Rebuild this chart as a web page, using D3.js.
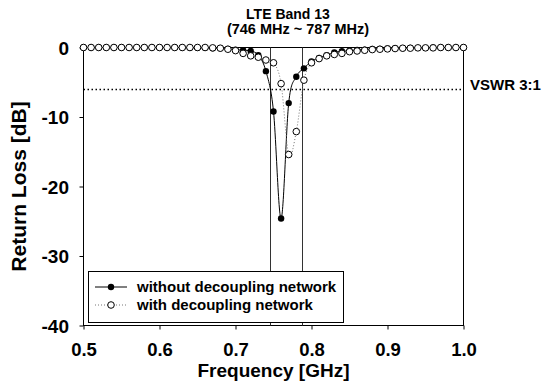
<!DOCTYPE html>
<html>
<head>
<meta charset="utf-8">
<script src="https://cdn.jsdelivr.net/npm/d3@7"></script>
<style>
  html, body { margin: 0; padding: 0; background: #fff; }
  svg { display: block; font-family: "Liberation Sans", Arial, sans-serif; font-weight: bold; }
</style>
</head>
<body>
<svg id="chart" width="554" height="387"></svg>
<script>
// Frequency sweep points (GHz)
const freq = [
  0.50, 0.51, 0.52, 0.53, 0.54, 0.55, 0.56, 0.57, 0.58, 0.59,
  0.60, 0.61, 0.62, 0.63, 0.64, 0.65, 0.66, 0.67, 0.68, 0.69,
  0.70, 0.71, 0.72, 0.73, 0.74, 0.75, 0.76, 0.77, 0.78, 0.79,
  0.80, 0.81, 0.82, 0.83, 0.84, 0.85, 0.86, 0.87, 0.88, 0.89,
  0.90, 0.91, 0.92, 0.93, 0.94, 0.95, 0.96, 0.97, 0.98, 0.99, 1.00
];
// Return loss (dB) without the decoupling network
const withoutNet = [
  0, 0, 0, 0, 0, 0, 0, 0, 0, 0,
  0, 0, 0, 0, -0.05, -0.05, -0.05, -0.1, -0.1, -0.2,
  -0.3, -0.4, -0.5, -1.1, -3.4, -9.2, -24.6, -8.0, -4.2, -3.0,
  -2.0, -1.5, -1.1, -0.7, -0.55, -0.45, -0.35, -0.3, -0.2, -0.2,
  -0.15, -0.1, -0.1, -0.05, -0.05, -0.05, 0, 0, 0, 0, 0
];
// Return loss (dB) with the decoupling network
const withNet = [
  0, 0, 0, 0, 0, 0, 0, 0, 0, 0,
  0, 0, 0, 0, 0, 0, 0, -0.05, -0.1, -0.25,
  -0.45, -0.85, -1.2, -1.4, -1.8, -2.2, -5.2, -15.4, -12.1, -4.7,
  -2.2, -1.6, -1.2, -1.0, -0.85, -0.6, -0.5, -0.4, -0.3, -0.25,
  -0.2, -0.15, -0.1, -0.1, -0.05, -0.05, -0.05, 0, 0, 0, 0
];
const xTicks = [0.5, 0.6, 0.7, 0.8, 0.9, 1.0];
const yTicks = [0, -10, -20, -30, -40];
const bandEdges = [0.746, 0.787];   // LTE Band 13 limits (GHz)
const vswrLevel = -6;               // VSWR 3:1 return-loss level (dB)
const seriesNames = ["without decoupling network", "with decoupling network"];

const svg = d3.select("#chart");
const x = d3.scaleLinear().domain([0.5, 1.0]).range([83.5, 463.5]);
const y = d3.scaleLinear().domain([-40, 0]).range([325.5, 47.5]);

// Plot frame
svg.append("rect")
  .attr("x", x(0.5)).attr("y", y(0))
  .attr("width", x(1.0) - x(0.5)).attr("height", y(-40) - y(0))
  .attr("fill", "none").attr("stroke", "#000").attr("stroke-width", 1);

// Band edges
svg.selectAll("line.band").data(bandEdges).join("line")
  .attr("class", "band")
  .attr("x1", d => Math.round(x(d)) + 0.5).attr("x2", d => Math.round(x(d)) + 0.5)
  .attr("y1", y(0)).attr("y2", y(-40))
  .attr("stroke", "#333").attr("stroke-width", 1);

// VSWR 3:1 reference
svg.append("line")
  .attr("x1", x(0.5)).attr("x2", x(1.0))
  .attr("y1", Math.round(y(vswrLevel)) + 0.5).attr("y2", Math.round(y(vswrLevel)) + 0.5)
  .attr("stroke", "#000").attr("stroke-width", 1.5)
  .attr("stroke-dasharray", "1.5,2.5");
svg.append("text")
  .attr("x", 470).attr("y", y(vswrLevel) + 1)
  .attr("font-size", 15).text("VSWR 3:1");

// Axes
const xAxis = svg.append("g")
  .attr("transform", `translate(0,${y(-40)})`)
  .call(d3.axisBottom(x).tickValues(xTicks).tickFormat(d3.format(".1f")).tickSizeOuter(0).tickSize(4));
xAxis.select(".domain").remove();
xAxis.selectAll("text").attr("y", 0).attr("dy", 30).attr("font-size", 18.5)
  .attr("font-family", null).attr("fill", "#000");

const yAxis = svg.append("g")
  .attr("transform", `translate(${x(0.5)},0)`)
  .call(d3.axisLeft(y).tickValues(yTicks).tickFormat(d => String(d)).tickSizeOuter(0).tickSize(4));
yAxis.select(".domain").remove();
yAxis.selectAll("text").attr("x", -14.5).attr("dy", "0.36em").attr("font-size", 19)
  .attr("font-family", null).attr("fill", "#000");
svg.selectAll(".tick line").attr("stroke", "#000");

// Series
const ptsWithout = freq.map((f, i) => [f, withoutNet[i]]);
const ptsWith = freq.map((f, i) => [f, withNet[i]]);
const line = d3.line().x(d => x(d[0])).y(d => y(d[1])).curve(d3.curveCardinal.tension(0));

svg.append("path").datum(ptsWithout)
  .attr("d", line).attr("fill", "none").attr("stroke", "#000").attr("stroke-width", 1);
svg.append("path").datum(ptsWith)
  .attr("d", line).attr("fill", "none").attr("stroke", "#777").attr("stroke-width", 1)
  .attr("stroke-dasharray", "1,2");

svg.append("g").selectAll("circle").data(ptsWithout).join("circle")
  .attr("cx", d => x(d[0])).attr("cy", d => y(d[1])).attr("r", 3.2)
  .attr("fill", "#000");
svg.append("g").selectAll("circle").data(ptsWith).join("circle")
  .attr("cx", d => x(d[0])).attr("cy", d => y(d[1])).attr("r", 3.3)
  .attr("fill", "#fff").attr("stroke", "#000").attr("stroke-width", 1);

// Legend
const lg = svg.append("g");
lg.append("rect").attr("x", 88.5).attr("y", 271.5).attr("width", 255).attr("height", 51)
  .attr("fill", "#fff").attr("stroke", "#000").attr("stroke-width", 1);
const rows = [287, 305];
lg.append("line").attr("x1", 95).attr("x2", 127).attr("y1", rows[0]).attr("y2", rows[0])
  .attr("stroke", "#000").attr("stroke-width", 1);
lg.append("circle").attr("cx", 111).attr("cy", rows[0]).attr("r", 3.2).attr("fill", "#000");
lg.append("line").attr("x1", 95).attr("x2", 127).attr("y1", rows[1]).attr("y2", rows[1])
  .attr("stroke", "#777").attr("stroke-width", 1).attr("stroke-dasharray", "1,2");
lg.append("circle").attr("cx", 111).attr("cy", rows[1]).attr("r", 3.3)
  .attr("fill", "#fff").attr("stroke", "#000");
lg.selectAll("text").data(seriesNames).join("text")
  .attr("x", 137).attr("y", (d, i) => rows[i] + 5)
  .attr("font-size", 15).text(d => d);

// Titles
svg.append("text").attr("x", 288).attr("y", 19).attr("text-anchor", "middle")
  .attr("font-size", 14).text("LTE Band 13");
svg.append("text").attr("x", 298).attr("y", 33.5).attr("text-anchor", "middle")
  .attr("font-size", 14.5).text("(746 MHz ~ 787 MHz)");
svg.append("text").attr("x", (x(0.5) + x(1.0)) / 2).attr("y", 377).attr("text-anchor", "middle")
  .attr("font-size", 19).text("Frequency [GHz]");
svg.append("text")
  .attr("transform", `translate(26,${(y(0) + y(-40)) / 2}) rotate(-90)`)
  .attr("text-anchor", "middle").attr("font-size", 21).text("Return Loss [dB]");
</script>
</body>
</html>
